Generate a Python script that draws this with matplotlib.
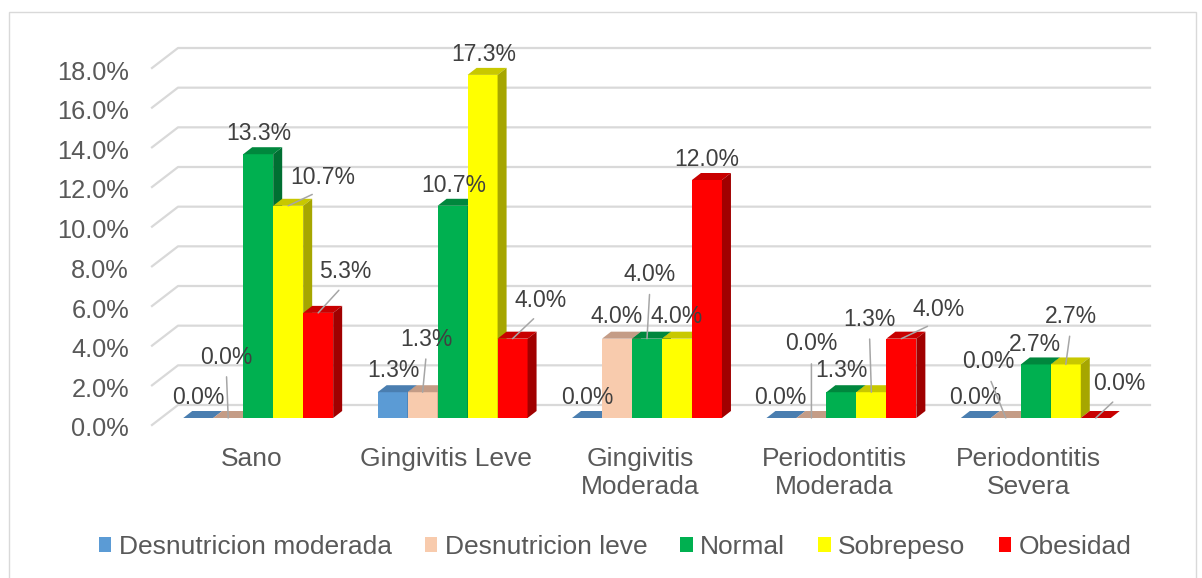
import matplotlib
matplotlib.use("Agg")
import matplotlib.pyplot as plt
from matplotlib.patches import Polygon, Patch, Rectangle
from matplotlib.lines import Line2D
from matplotlib.transforms import IdentityTransform, ScaledTranslation

# ---------------- data ----------------
categories = ["Sano", "Gingivitis Leve", "Gingivitis\nModerada",
              "Periodontitis\nModerada", "Periodontitis\nSevera"]
series_names = ["Desnutricion moderada", "Desnutricion leve", "Normal",
                "Sobrepeso", "Obesidad"]
desnutricion_moderada = [0.0, 1.3, 0.0, 0.0, 0.0]
desnutricion_leve = [0.0, 1.3, 4.0, 0.0, 0.0]
normal = [13.3, 10.7, 4.0, 1.3, 2.7]
sobrepeso = [10.7, 17.3, 4.0, 1.3, 2.7]
obesidad = [5.3, 4.0, 12.0, 4.0, 0.0]
y_ticks = [0, 2, 4, 6, 8, 10, 12, 14, 16, 18]

series_values = [desnutricion_moderada, desnutricion_leve, normal, sobrepeso, obesidad]

# ---------------- style ----------------
front_colors = ["#5B9BD5", "#F8CBAD", "#00B050", "#FFFF00", "#FF0000"]
top_colors = ["#4A7EB0", "#C49C86", "#00873D", "#C8C800", "#C80000"]
side_colors = ["#3A6591", "#A8856F", "#006F32", "#A6A600", "#A00000"]

# label offsets in pixels (dx right, dy down) from bar top front centre, leader flag
label_offsets = [
    [(0, -23, False), (1, -24, False), (0, -23, False), (-1, -23, False), (-1, -23, False)],
    [(-2, -63, True), (4, -55, True), (0, -24, False), (0, -76, True), (-18, -58, True)],
    [(1, -23, False), (1, -22, False), (3, -66, True), (0, -24, False), (-1, -22, False)],
    [(35, -30, True), (1, -22, False), (0, -24, False), (-2, -75, True), (5, -50, True)],
    [(27, -43, True), (28, -40, True), (0, -23, False), (37, -31, True), (24, -36, True)],
]

W, H, DPI = 1202, 578, 100
DEPTH_X, DEPTH_Y = 9, 7          # bar depth in px
BACK_X, BACK_Y = 17, 13          # back wall offset from bar plane
FRONT_X, FRONT_Y = -9, -7        # front edge offset from bar plane
GRID_C = "#D9D9D9"
TXT_C = "#595959"
LBL_C = "#404040"
FONT = "Liberation Sans"

plt.rcParams["font.family"] = [FONT, "DejaVu Sans"]

fig = plt.figure(figsize=(W / DPI, H / DPI), dpi=DPI)
ax = fig.add_axes([161 / W, 160 / H, 972 / W, 357 / H])
ax.set_xlim(-0.5, len(categories) - 0.5)
ax.set_ylim(0, 18)
for s in ax.spines.values():
    s.set_visible(False)
ax.patch.set_visible(False)

n = len(series_values)
bw = 30 / 194.5   # bar width in category units
td = ax.transData

# gridlines: front diagonal + back wall
for v in y_ticks:
    x0, y0 = td.transform((-0.5, v))
    x1, _ = td.transform((len(categories) - 0.5, v))
    xs = [x0 + FRONT_X, x0 + BACK_X, x1 + BACK_X]
    ys = [y0 + FRONT_Y, y0 + BACK_Y, y0 + BACK_Y]
    ax.add_line(Line2D(xs, ys, transform=IdentityTransform(), color=GRID_C,
                       lw=1.6, zorder=1, clip_on=False))

# bars
for j, vals in enumerate(series_values):
    xs = [i + (j - (n - 1) / 2) * bw for i in range(len(categories))]
    bars = ax.bar(xs, vals, width=bw, color=front_colors[j], edgecolor="none",
                  label=series_names[j])
    for i, (b, v) in enumerate(zip(bars, vals)):
        b.set_zorder(10 + 3 * j)
        (xl, yb) = td.transform((xs[i] - bw / 2, 0))
        (xr, yt) = td.transform((xs[i] + bw / 2, v))
        top = Polygon([(xl, yt), (xr, yt), (xr + DEPTH_X, yt + DEPTH_Y),
                       (xl + DEPTH_X, yt + DEPTH_Y)], closed=True,
                      transform=IdentityTransform(), facecolor=top_colors[j],
                      edgecolor="none", zorder=11 + 3 * j, clip_on=False)
        ax.add_patch(top)
        if v > 0:
            side = Polygon([(xr, yb), (xr + DEPTH_X, yb + DEPTH_Y),
                            (xr + DEPTH_X, yt + DEPTH_Y), (xr, yt)], closed=True,
                           transform=IdentityTransform(), facecolor=side_colors[j],
                           edgecolor="none", zorder=12 + 3 * j, clip_on=False)
            ax.add_patch(side)
        dx, dy, leader = label_offsets[j][i]
        kw = {}
        if leader:
            kw["arrowprops"] = dict(arrowstyle="-", color="#A6A6A6", lw=1.1,
                                    shrinkA=4, shrinkB=0, relpos=(0.5, 0))
        ax.annotate(f"{v:.1f}%", xy=(xs[i], v),
                    xytext=(dx * 0.72, -(dy + 2) * 0.72), textcoords="offset points",
                    ha="center", va="center", fontsize=16.5, color=LBL_C,
                    zorder=60, annotation_clip=False, **kw)

# axes ticks
ax.set_yticks(y_ticks)
ax.set_yticklabels([f"{v:.1f}%" for v in y_ticks])
ax.tick_params(axis="y", length=0, pad=23, labelsize=18.3, labelcolor=TXT_C)
for lab in ax.get_yticklabels():
    lab.set_transform(lab.get_transform() + ScaledTranslation(0, -9 / DPI, fig.dpi_scale_trans))

ax.set_xticks(range(len(categories)))
ax.set_xticklabels(categories)
ax.tick_params(axis="x", length=0, pad=21, labelsize=19, labelcolor=TXT_C)
for lab in ax.get_xticklabels():
    lab.set_transform(lab.get_transform() + ScaledTranslation(-7 / DPI, 0, fig.dpi_scale_trans))

# legend
handles = [Patch(facecolor=c, edgecolor="none", label=nme)
           for c, nme in zip(front_colors, series_names)]
fig.legend(handles=handles, loc="center", bbox_to_anchor=(615 / W, 1 - 547 / H),
           ncol=5, frameon=False, fontsize=19, handlelength=0.49, handleheight=0.49,
           handletextpad=0.27, columnspacing=1.25, borderaxespad=0, borderpad=0,
           labelcolor=TXT_C)

# chart border
fig.add_artist(Rectangle((9 / W, -0.05), (1196 - 9) / W, (H - 12) / H + 0.05,
                         transform=fig.transFigure, fill=False, edgecolor=GRID_C, lw=1))

fig.savefig("out.png", dpi=DPI)
